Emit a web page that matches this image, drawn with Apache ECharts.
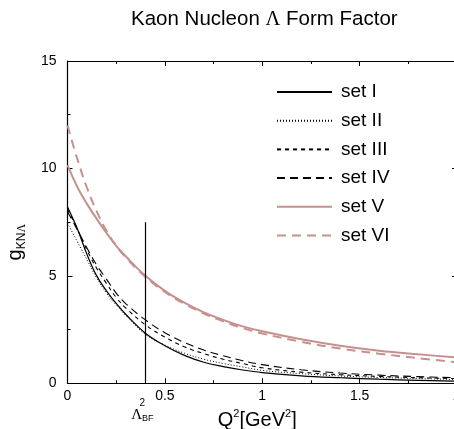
<!DOCTYPE html>
<html><head><meta charset="utf-8">
<script src="https://cdn.jsdelivr.net/npm/echarts@6/dist/echarts.min.js"></script>
<style>html,body{margin:0;padding:0;background:#fff}#c{width:454px;height:429px}</style>
</head><body><div id="c"></div>
<script>
// Q^2 grid [GeV^2]
const q2 = [0, 0.05, 0.1, 0.15, 0.2, 0.25, 0.3, 0.4, 0.5, 0.6, 0.7, 0.8, 0.9, 1.0, 1.2, 1.4, 1.6, 1.8, 2.0];
const setI   = [8.2, 7.2, 6.0, 5.0, 4.3, 3.72, 3.2, 2.33, 1.75, 1.3, 0.98, 0.78, 0.62, 0.5, 0.35, 0.26, 0.19, 0.14, 0.1];
const setII  = [7.45, 6.6, 5.75, 4.9, 4.2, 3.65, 3.15, 2.28, 1.78, 1.4, 1.12, 0.92, 0.76, 0.6, 0.45, 0.34, 0.27, 0.22, 0.18];
const setIII = [8.1, 7.2, 6.2, 5.35, 4.65, 4.0, 3.5, 2.72, 2.15, 1.7, 1.38, 1.12, 0.92, 0.72, 0.52, 0.4, 0.32, 0.26, 0.22];
const setIV  = [8.0, 7.15, 6.3, 5.5, 4.85, 4.2, 3.7, 2.95, 2.35, 1.9, 1.55, 1.28, 1.05, 0.87, 0.63, 0.48, 0.38, 0.31, 0.26];
const setV   = [10.15, 9.15, 8.35, 7.65, 7.0, 6.4, 5.9, 5.0, 4.3, 3.75, 3.3, 2.95, 2.65, 2.42, 2.05, 1.75, 1.52, 1.35, 1.2];
const setVI  = [12.0, 10.45, 9.1, 8.0, 7.1, 6.4, 5.85, 4.95, 4.25, 3.7, 3.25, 2.88, 2.57, 2.32, 1.93, 1.62, 1.38, 1.17, 0.98];
const seriesNames = ['set I', 'set II', 'set III', 'set IV', 'set V', 'set VI'];
// Lambda_BF^2 marker
const lambdaBF2 = 0.4;
const lambdaTop = 7.5;
const xTickValues = [0, 0.5, 1, 1.5, 2];
const yTickValues = [0, 5, 10, 15];

const BROWN = '#c4918f';
const values = [setI, setII, setIII, setIV, setV, setVI];
const styles = [
  {color: '#000', width: 1.2, type: 'solid'},
  {color: '#000', width: 1, type: [1, 2]},
  {color: '#000', width: 1.1, type: [4, 4]},
  {color: '#000', width: 1.1, type: [8, 5]},
  {color: BROWN, width: 2, type: 'solid'},
  {color: BROWN, width: 2, type: [9, 6]}
];

const series = values.map((v, i) => ({
  name: seriesNames[i],
  type: 'line',
  xAxisIndex: 0, yAxisIndex: 0,
  data: q2.map((x, j) => [x, v[j]]),
  smooth: 0.4,
  symbol: 'none',
  clip: true,
  color: styles[i].color,
  lineStyle: {color: styles[i].color, width: styles[i].width, type: styles[i].type},
  itemStyle: {color: styles[i].color},
  z: 3 + (5 - i)
}));

series.push({
  name: 'lambda',
  type: 'line',
  data: [],
  markLine: {
    silent: true,
    symbol: 'none',
    animation: false,
    lineStyle: {color: '#000', width: 1.2, type: 'solid'},
    label: {
      show: true,
      position: 'start',
      distance: 16,
      formatter: '{s|2}\n{a|Λ}{b|BF}',
      rich: {
        s: {fontFamily: 'Liberation Sans', fontSize: 10, color: '#000', lineHeight: 8, padding: [0, 6, 0, 0]},
        a: {fontFamily: 'Liberation Serif', fontSize: 15, color: '#000', lineHeight: 16},
        b: {fontFamily: 'Liberation Sans', fontSize: 9, color: '#000', lineHeight: 9, verticalAlign: 'bottom', padding: [0, 6, 0, 0]}
      }
    },
    data: [[{coord: [lambdaBF2, 0]}, {coord: [lambdaBF2, lambdaTop]}]]
  }
});

const chart = echarts.init(document.getElementById('c'), null, {renderer: 'canvas'});
const axisFont = {fontFamily: 'Liberation Sans', fontSize: 14, color: '#000'};
chart.setOption({
  animation: false,
  backgroundColor: '#fff',
  title: {
    text: 'Kaon Nucleon {l|Λ} Form Factor',
    left: 126, top: 4,
    textStyle: {
      fontFamily: 'Liberation Sans', fontSize: 20.5, fontWeight: 'normal', color: '#000',
      rich: {l: {fontFamily: 'Liberation Serif', fontSize: 20.5, color: '#000'}}
    }
  },
  legend: {
    orient: 'vertical',
    left: 271, top: 76,
    itemWidth: 55, itemHeight: 12, itemGap: 6.7,
    data: seriesNames,
    itemStyle: {opacity: 0},
    textStyle: {fontFamily: 'Liberation Sans', fontSize: 19, color: '#000', lineHeight: 22, padding: [0, 0, 0, 4]},
    selectedMode: false
  },
  grid: {left: 67.5, top: 61, width: 389.5, height: 322.3, containLabel: false, outerBoundsMode: 'none'},
  xAxis: [{
    type: 'value', min: 0, max: 2, interval: 0.5, position: 'bottom',
    axisLine: {show: true, onZero: false, lineStyle: {color: '#000', width: 1.2}},
    axisTick: {show: true, inside: true, length: 5, lineStyle: {color: '#000'}},
    minorTick: {show: true, splitNumber: 2, length: 3, lineStyle: {color: '#000'}},
    splitLine: {show: false},
    axisLabel: Object.assign({margin: 6, formatter: v => (xTickValues.includes(v) ? String(v) : '')}, axisFont),
    name: '{m|Q}{s|2}{m|[GeV}{s|2}{m|]}',
    nameLocation: 'middle', nameGap: 14,
    nameTextStyle: {
      padding: [0, 10, 0, 0],
      rich: {
        m: {fontFamily: 'Liberation Sans', fontSize: 20, color: '#000', lineHeight: 24},
        s: {fontFamily: 'Liberation Sans', fontSize: 11, color: '#000', lineHeight: 24, verticalAlign: 'top', padding: [0, 0, 10, 0]}
      }
    }
  }, {
    type: 'value', min: 0, max: 2, interval: 0.5, position: 'top',
    axisLine: {show: true, onZero: false, lineStyle: {color: '#000', width: 1.2}},
    axisTick: {show: true, inside: true, length: 5, lineStyle: {color: '#000'}},
    minorTick: {show: true, splitNumber: 2, length: 3, lineStyle: {color: '#000'}},
    splitLine: {show: false}, axisLabel: {show: false}
  }],
  yAxis: [{
    type: 'value', min: 0, max: 15, interval: 5, position: 'left',
    axisLine: {show: true, onZero: false, lineStyle: {color: '#000', width: 1.2}},
    axisTick: {show: true, inside: true, length: 5, lineStyle: {color: '#000'}},
    minorTick: {show: true, splitNumber: 2, length: 3, lineStyle: {color: '#000'}},
    splitLine: {show: false},
    axisLabel: Object.assign({margin: 11, formatter: v => (yTickValues.includes(v) ? String(v) : '')}, axisFont),
    name: '{g|g}{k|KN}{l|Λ}',
    nameLocation: 'middle', nameGap: 40, nameRotate: 90,
    nameTextStyle: {
      padding: [0, 40, 0, 0],
      rich: {
        g: {fontFamily: 'Liberation Sans', fontSize: 20, color: '#000', lineHeight: 24},
        k: {fontFamily: 'Liberation Sans', fontSize: 12, color: '#000', lineHeight: 24, verticalAlign: 'bottom', padding: [6, 0, 0, 0]},
        l: {fontFamily: 'Liberation Serif', fontSize: 12, color: '#000', lineHeight: 24, verticalAlign: 'bottom', padding: [6, 0, 0, 0]}
      }
    }
  }, {
    type: 'value', min: 0, max: 15, interval: 5, position: 'right',
    axisLine: {show: true, onZero: false, lineStyle: {color: '#000', width: 1.2}},
    axisTick: {show: true, inside: true, length: 5},
    splitLine: {show: false}, axisLabel: {show: false}
  }],
  series: series
});
</script></body></html>
